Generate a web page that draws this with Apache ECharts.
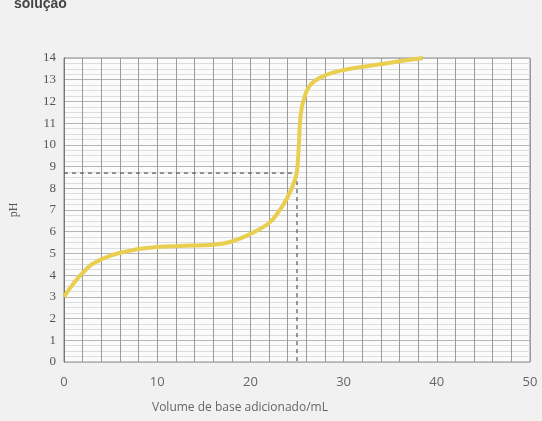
<!DOCTYPE html>
<html><head><meta charset="utf-8">
<script src="https://cdn.jsdelivr.net/npm/echarts@6/dist/echarts.min.js"></script>
<style>html,body{margin:0;padding:0;background:#eeeeee}#c{width:542px;height:421px}</style>
</head><body><div id="c"></div>
<script>
const volume = [0, 1, 2, 3, 5, 8, 10, 13, 16, 18, 20, 22, 23, 24, 24.7, 25, 25.2, 25.4, 25.8, 26.5, 28, 30, 33, 36, 38.5];
const pH     = [3.0, 3.6, 4.1, 4.5, 4.9, 5.2, 5.3, 5.35, 5.4, 5.55, 5.9, 6.4, 6.9, 7.6, 8.3, 8.8, 10.0, 11.4, 12.2, 12.8, 13.2, 13.45, 13.65, 13.85, 14.0];
const eqVolume = 25;
const eqPH = 8.7;
const xTicks = [0, 10, 20, 30, 40, 50];
const yTicks = [0,1,2,3,4,5,6,7,8,9,10,11,12,13,14];

const chart = echarts.init(document.getElementById('c'));
chart.setOption({
  backgroundColor: '#f1f1f1',
  animation: false,
  grid: {left: 64, right: 12, top: 58, bottom: 59, show: true, backgroundColor: '#fbfbfb', borderColor: '#888', borderWidth: 1},
  graphic: [
    {type: 'text', left: 14, top: -3, style: {text: 'solução', font: 'bold 14px "Liberation Sans"', fill: '#444'}},
    {type: 'text', left: 152, top: 402, style: {text: 'Volume de base adicionado/mL', font: '12px "Open Sans"', fill: '#666'}}
  ],
  xAxis: {
    type: 'value', min: 0, max: 50, interval: 2,
    axisLine: {show: false}, axisTick: {show: false},
    axisLabel: {
      margin: 14, color: '#666', fontSize: 13, fontFamily: 'Open Sans',
      formatter: v => xTicks.includes(v) ? String(v) : ''
    },
    splitLine: {show: true, lineStyle: {color: '#9a9a9a', width: 1}},
    minorTick: {show: false},
    minorSplitLine: {show: false}
  },
  yAxis: {
    type: 'value', min: 0, max: 14, interval: 1,
    name: 'pH', nameLocation: 'middle', nameGap: 44, nameRotate: 90,
    nameTextStyle: {color: '#555', fontSize: 12, fontFamily: 'Liberation Serif'},
    axisLine: {show: true, lineStyle: {color: '#777'}}, axisTick: {show: false},
    axisLabel: {margin: 8, color: '#555', fontSize: 13, fontFamily: 'Liberation Serif',
      formatter: v => yTicks.includes(v) ? String(v) : ''},
    splitLine: {show: true, lineStyle: {color: '#b5b5b5', width: 1}},
    minorTick: {show: false, splitNumber: 4},
    minorSplitLine: {show: true, lineStyle: {color: '#dddddd', width: 1}}
  },
  series: [
    {type: 'line', data: [[0, eqPH], [eqVolume, eqPH]], symbol: 'none',
      lineStyle: {color: '#555', width: 1.2, type: [4, 4]}, silent: true},
    {type: 'line', data: [[eqVolume, eqPH], [eqVolume, 0]], symbol: 'none',
      lineStyle: {color: '#555', width: 1.2, type: [4, 4]}, silent: true},
    {type: 'line', data: volume.map((v, i) => [v, pH[i]]), smooth: 0.4, symbol: 'none',
      lineStyle: {color: '#e8cf4f', width: 4}, z: 5}
  ]
});
</script></body></html>
